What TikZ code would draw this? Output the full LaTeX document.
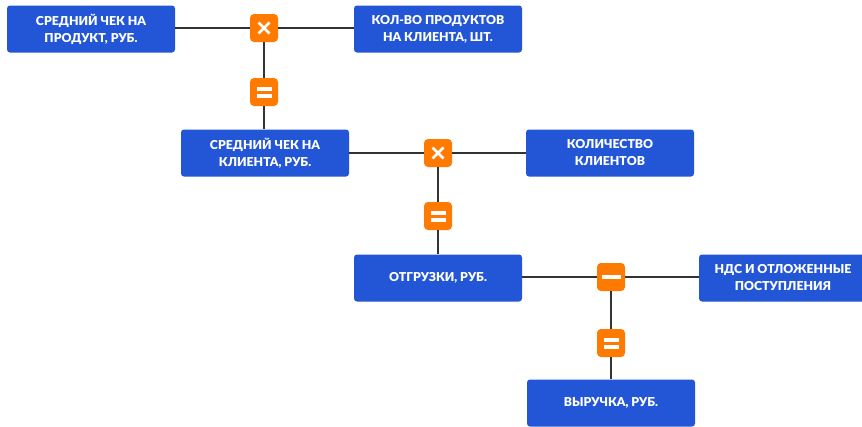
\documentclass[tikz,border=0pt]{standalone}
\usepackage{fontspec}
\setmainfont{Lato}[BoldFont={Lato Black}]
\definecolor{boxblue}{HTML}{2356D6}
\definecolor{opor}{HTML}{FF7A00}
\definecolor{linegray}{HTML}{333333}
\begin{document}
\begin{tikzpicture}[x=1pt,y=-1pt,
  metric/.style={rectangle, fill=boxblue, rounded corners=3pt, minimum width=168pt, minimum height=47pt,
    text=white, font=\bfseries\fontsize{12.3}{17}\selectfont, align=center, inner sep=0pt},
  opbox/.style={rectangle, fill=opor, rounded corners=4pt, minimum width=28pt, minimum height=28pt, inner sep=0pt},
  mulop/.style={opbox, path picture={
     \draw[white, sharp corners, line width=2.8pt] ([shift={(-5.5pt,-5.5pt)}]path picture bounding box.center) -- ([shift={(5.5pt,5.5pt)}]path picture bounding box.center);
     \draw[white, sharp corners, line width=2.8pt] ([shift={(-5.5pt,5.5pt)}]path picture bounding box.center) -- ([shift={(5.5pt,-5.5pt)}]path picture bounding box.center);}},
  eqop/.style={opbox, path picture={
     \fill[white, sharp corners] ([shift={(-7.5pt,1.5pt)}]path picture bounding box.center) rectangle ([shift={(7.5pt,5.5pt)}]path picture bounding box.center);
     \fill[white, sharp corners] ([shift={(-7.5pt,-5.5pt)}]path picture bounding box.center) rectangle ([shift={(7.5pt,-1.5pt)}]path picture bounding box.center);}},
  minop/.style={opbox, path picture={
     \fill[white, sharp corners] ([shift={(-9.5pt,-2pt)}]path picture bounding box.center) rectangle ([shift={(9.5pt,2pt)}]path picture bounding box.center);}},
  conn/.style={draw=linegray, line width=1.8pt}
]
\fill[white] (0,0) rectangle (862,426);
\useasboundingbox (0,0) rectangle (862,426);
\begin{scope}
\clip (0,0) rectangle (862,426);
\node[metric] (b1) at (91,29) {СРЕДНИЙ ЧЕК НА\\ПРОДУКТ, РУБ.};
\node[metric] (b2) at (438,29) {КОЛ-ВО ПРОДУКТОВ\\НА КЛИЕНТА, ШТ.};
\node[mulop] (x1) at (264,28) {};
\node[eqop] (e1) at (264,92) {};
\node[metric] (b3) at (265,153) {СРЕДНИЙ ЧЕК НА\\КЛИЕНТА, РУБ.};
\node[mulop] (x2) at (438,153) {};
\node[metric] (b4) at (610,153) {КОЛИЧЕСТВО\\КЛИЕНТОВ};
\node[eqop] (e2) at (438,216) {};
\node[metric] (b5) at (438,278) {ОТГРУЗКИ, РУБ.};
\node[minop] (m1) at (611,277) {};
\node[metric] (b6) at (783,278) {НДС И ОТЛОЖЕННЫЕ\\ПОСТУПЛЕНИЯ};
\node[eqop] (e3) at (611,343) {};
\node[metric] (b7) at (611,403) {ВЫРУЧКА, РУБ.};

\draw[conn] (b1.east |- x1.west) -- (x1.west);
\draw[conn] (x1.east) -- (x1.east -| b2.west);
\draw[conn] (x1.south) -- (e1.north);
\draw[conn] (e1.south) -- (e1.south |- b3.north);
\draw[conn] (b3.east |- x2.west) -- (x2.west);
\draw[conn] (x2.east) -- (x2.east -| b4.west);
\draw[conn] (x2.south) -- (e2.north);
\draw[conn] (e2.south) -- (e2.south |- b5.north);
\draw[conn] (b5.east |- m1.west) -- (m1.west);
\draw[conn] (m1.east) -- (m1.east -| b6.west);
\draw[conn] (m1.south) -- (e3.north);
\draw[conn] (e3.south) -- (e3.south |- b7.north);
\end{scope}
\end{tikzpicture}
\end{document}
